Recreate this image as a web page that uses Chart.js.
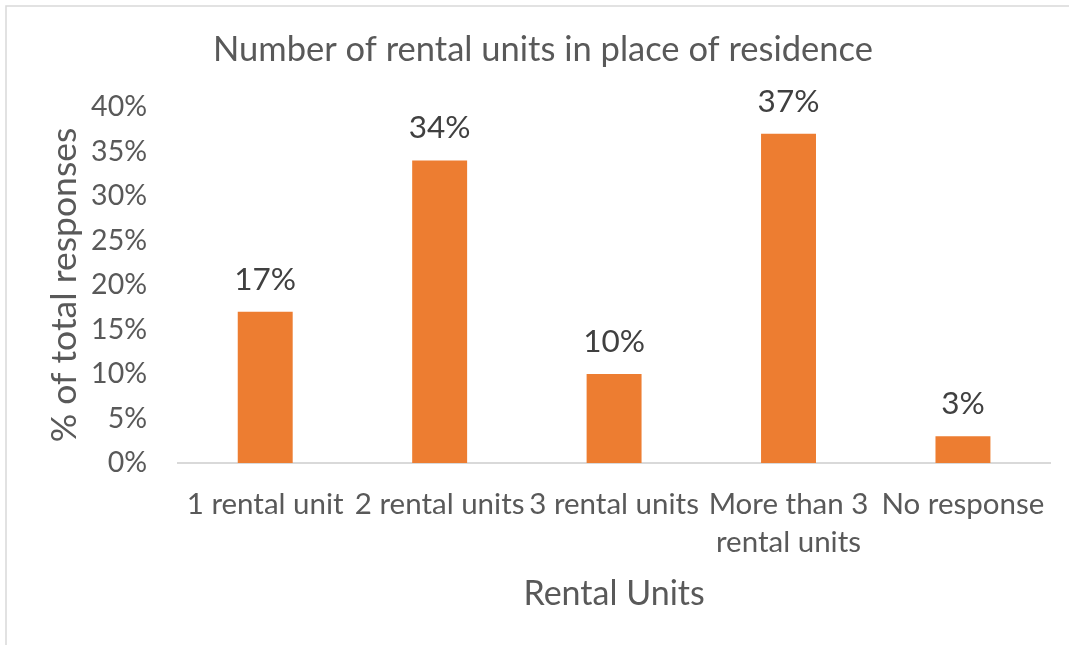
<!DOCTYPE html>
<html><head><meta charset="utf-8">
<script src="https://cdn.jsdelivr.net/npm/chart.js@4.4.1/dist/chart.umd.min.js"></script>
<style>html,body{margin:0;padding:0;background:#fff;}#wrap{width:1069px;height:645px;position:relative;}</style>
</head><body><div id="wrap"><canvas id="c" width="1069" height="645"></canvas></div>
<script>
const categories = ["1 rental unit", "2 rental units", "3 rental units", ["More than 3", "rental units"], "No response"];
const values = [17, 34, 10, 37, 3];
const yTicks = [0, 5, 10, 15, 20, 25, 30, 35, 40];
const chartTitle = "Number of rental units in place of residence";
const xTitle = "Rental Units";
const yTitle = "% of total responses";

const FONT = "Lato, 'Noto Sans', sans-serif";

const decor = {
  id: 'decor',
  beforeDraw(chart) {
    const ctx = chart.ctx;
    ctx.save();
    ctx.fillStyle = '#ffffff';
    ctx.fillRect(0, 0, chart.width, chart.height);
    ctx.strokeStyle = '#d9d9d9';
    ctx.lineWidth = 1.5;
    ctx.beginPath();
    ctx.moveTo(6, 700); ctx.lineTo(6, 6); ctx.lineTo(1100, 6);
    ctx.stroke();
    ctx.fillStyle = '#595959';
    ctx.font = "34.5px " + FONT;
    ctx.textAlign = 'center';
    ctx.textBaseline = 'middle';
    ctx.fillText(chartTitle, 543, 50);
    ctx.restore();
  },
  afterDatasetsDraw(chart) {
    const ctx = chart.ctx;
    const meta = chart.getDatasetMeta(0);
    ctx.save();
    ctx.fillStyle = '#404040';
    ctx.font = "31.5px " + FONT;
    ctx.textAlign = 'center';
    ctx.textBaseline = 'alphabetic';
    meta.data.forEach((bar, i) => {
      ctx.fillText(values[i] + '%', bar.x, bar.y - 22);
    });
    ctx.restore();
  }
};

new Chart(document.getElementById('c'), {
  type: 'bar',
  data: {
    labels: categories,
    datasets: [{
      data: values,
      backgroundColor: '#ed7d31',
      borderWidth: 0,
      categoryPercentage: 1,
      barPercentage: 0.315
    }]
  },
  options: {
    responsive: false,
    animation: false,
    devicePixelRatio: 1,
    layout: { padding: { left: 0, top: 107, right: 16, bottom: 0 } },
    plugins: { legend: { display: false }, tooltip: { enabled: false }, title: { display: false } },
    scales: {
      x: {
        grid: { display: false, drawTicks: false },
        border: { display: true, color: '#d9d9d9', width: 2 },
        ticks: { color: '#595959', font: { family: FONT, size: 29.5, lineHeight: 1.28 }, padding: 23, maxRotation: 0, autoSkip: false },
        title: { display: true, text: xTitle, color: '#595959', font: { family: FONT, size: 34 }, padding: { top: 0, bottom: 31 } },
        afterFit(s) { s.height = 645 - 463; }
      },
      y: {
        min: 0, max: 40,
        afterBuildTicks(s) { s.ticks = yTicks.map(v => ({ value: v })); },
        grid: { display: false, drawTicks: false },
        border: { display: false },
        ticks: { color: '#595959', font: { family: FONT, size: 28.5 }, padding: 31, callback: v => v + '%' },
        title: { display: true, text: yTitle, color: '#595959', font: { family: FONT, size: 35.5 }, padding: { top: 43, bottom: 0 } },
        afterFit(s) { s.width = 178; }
      }
    }
  },
  plugins: [decor]
});
</script></body></html>
